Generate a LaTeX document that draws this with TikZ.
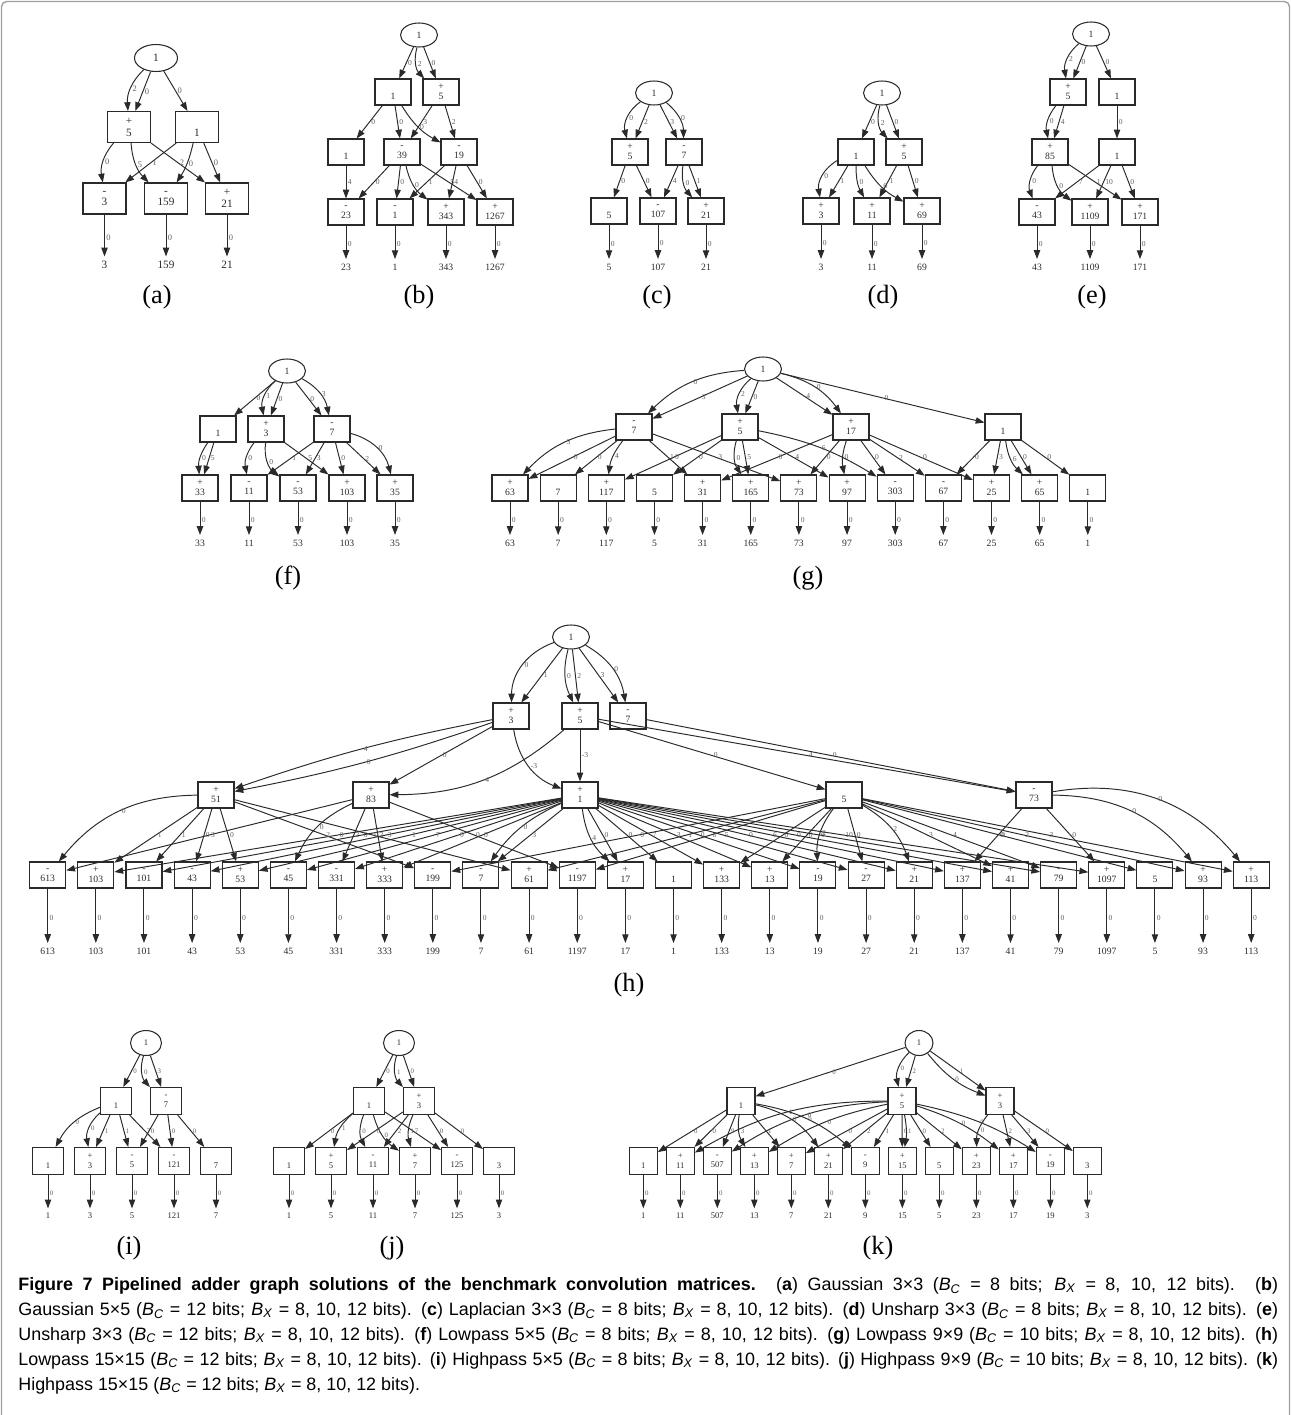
\documentclass[tikz,border=0pt]{standalone}
\usepackage{fontspec}
\setmainfont{Liberation Serif}
\newfontfamily\capfont{Liberation Sans}
\usepackage{tikz}
\usetikzlibrary{arrows.meta,shapes.geometric}
\definecolor{inkgray}{HTML}{2A2A2A}
\definecolor{labelgray}{HTML}{606060}
\definecolor{framegray}{HTML}{A0A0A0}
\newcommand{\Bc}{\textit{B}\textsubscript{\textit{C}}}
\newcommand{\Bx}{\textit{B}\textsubscript{\textit{X}}}
\tikzset{
  opbox/.style={rectangle,draw=inkgray,line width=0.6pt,minimum width=0.72cm,minimum height=0.52cm,inner sep=0pt,align=center,text=inkgray,font=\fontsize{5.5}{5.7}\selectfont},
  srcnode/.style={ellipse,draw=inkgray,line width=0.6pt,minimum width=0.74cm,minimum height=0.48cm,inner sep=0pt,text=inkgray,font=\fontsize{5.5}{6}\selectfont},
  outval/.style={inner sep=0.5pt,text=inkgray,font=\fontsize{5.5}{6}\selectfont},
  wire/.style={-{Triangle[length=5pt,width=3.6pt]},line width=0.55pt,draw=inkgray},
  outwire/.style={wire,shorten >=2pt},
  shiftlbl/.style={anchor=west,inner sep=0.8pt,text=labelgray,font=\fontsize{4.3}{4.5}\selectfont},
  sublbl/.style={inner sep=0pt,font=\fontsize{15}{18}\selectfont},
  captext/.style={anchor=north west,inner sep=0pt,text width=25.2cm,align=justify,font=\capfont\fontsize{10.2}{14.2}\selectfont}
}

\begin{document}
\begin{tikzpicture}[x=0.02cm,y=-0.02cm]
\useasboundingbox (0,0) rectangle (1291,1415);
\draw[framegray,line width=0.8pt,rounded corners=3pt] (1.5,1420) -- (1.5,1.5) -- (1289.5,1.5) -- (1289.5,1420);

% (a)
\begin{scope}[opbox/.append style={minimum width=0.86cm,minimum height=0.62cm,font=\fontsize{6.4}{6.8}\selectfont},
  srcnode/.append style={minimum width=0.86cm,minimum height=0.54cm,font=\fontsize{6.4}{7}\selectfont},
  outval/.append style={font=\fontsize{6.4}{7}\selectfont},
  shiftlbl/.append style={font=\fontsize{4.8}{5}\selectfont}]
\node[srcnode] (ar) at (156,58) {1};
\node[opbox] (au5) at (129,127) {+\\5};
\node[opbox] (au1) at (197,127) {\phantom{+}\\1};
\foreach \s/\v/\x in {-/3/104.5,-/159/166,+/21/227}
  \node[opbox] (ab\v) at (\x,198.5) {\s\\\v};
\draw[wire] (ar) to[bend right=25] node[shiftlbl]{2} (au5);
\draw[wire] (ar) -- node[shiftlbl]{0} (au5);
\draw[wire] (ar) -- node[shiftlbl]{0} (au1);
\draw[wire] (au5) to[bend right=25] node[shiftlbl]{0} (ab3);
\draw[wire] (au5) to[bend right=20] node[shiftlbl]{5} (ab159);
\draw[wire] (au5) -- node[shiftlbl]{2} (ab21);
\draw[wire] (au1) -- node[shiftlbl]{1} (ab3);
\draw[wire] (au1) to[bend left=10] node[shiftlbl]{0} (ab159);
\draw[wire] (au1) -- node[shiftlbl]{0} (ab21);
\foreach \v in {3,159,21}{
  \node[outval] (ao\v) at (ab\v |- 0,265) {\v};
  \draw[outwire] (ab\v) -- node[shiftlbl]{0} (ao\v);
}
\node[sublbl] (alabel) at (157,297) {(a)};
\end{scope}

% (b)
\node[srcnode] (br) at (419,35) {1};
\node[opbox] (bu1) at (393,92) {\phantom{+}\\1};
\node[opbox] (bu5) at (441,92) {+\\5};
\node[opbox] (bm1) at (346,152) {\phantom{+}\\1};
\node[opbox] (bm39) at (402,152) {-\\39};
\node[opbox] (bm19) at (459,152) {-\\19};
\foreach \s/\v/\x in {-/23/346,-/1/395,+/343/446,+/1267/495}
  \node[opbox] (bb\v) at (\x,212) {\s\\\v};
\draw[wire] (br) -- node[shiftlbl]{0} (bu1);
\draw[wire] (br) to[bend right=30] node[shiftlbl]{2} (bu5);
\draw[wire] (br) -- node[shiftlbl]{0} (bu5);
\draw[wire] (bu1) -- node[shiftlbl]{0} (bm1);
\draw[wire] (bu1) -- node[shiftlbl]{0} (bm39);
\draw[wire] (bu1) to[bend right=15] node[shiftlbl]{0} (bm19);
\draw[wire] (bu5) -- node[shiftlbl]{3} (bm39);
\draw[wire] (bu5) -- node[shiftlbl]{2} (bm19);
\draw[wire] (bm1) -- node[shiftlbl]{4} (bb23);
\draw[wire] (bm39) -- node[shiftlbl]{0} (bb23);
\draw[wire] (bm39) -- node[shiftlbl]{0} (bb1);
\draw[wire] (bm39) to[bend right=20] node[shiftlbl]{0} (bb343);
\draw[wire] (bm39) -- node[shiftlbl]{5} (bb1267);
\draw[wire] (bm19) -- node[shiftlbl]{1} (bb1);
\draw[wire] (bm19) -- node[shiftlbl]{4} (bb343);
\draw[wire] (bm19) -- node[shiftlbl]{0} (bb1267);
\foreach \v in {23,1,343,1267}{
  \node[outval] (bo\v) at (bb\v |- 0,267) {\v};
  \draw[outwire] (bb\v) -- node[shiftlbl]{0} (bo\v);
}
\node[sublbl] (blabel) at (419,297) {(b)};

% (c)
\node[srcnode] (cr) at (654,93) {1};
\node[opbox] (cu5) at (630,152) {+\\5};
\node[opbox] (cu7) at (684,152) {-\\7};
\foreach \s/\v/\x in {\phantom{+}/5/609,-/107/658,+/21/706}
  \node[opbox] (cb\v) at (\x,211) {\s\\\v};
\draw[wire] (cr) to[bend right=35] node[shiftlbl]{0} (cu5);
\draw[wire] (cr) -- node[shiftlbl]{2} (cu5);
\draw[wire] (cr) -- node[shiftlbl]{3} (cu7);
\draw[wire] (cr) to[bend left=25] node[shiftlbl]{0} (cu7);
\draw[wire] (cu5) -- node[shiftlbl]{0} (cb5);
\draw[wire] (cu5) -- node[shiftlbl]{0} (cb107);
\draw[wire] (cu7) -- node[shiftlbl]{4} (cb107);
\draw[wire] (cu7) to[bend right=25] node[shiftlbl]{0} (cb21);
\draw[wire] (cu7) -- node[shiftlbl]{1} (cb21);
\foreach \v in {5,107,21}{
  \node[outval] (co\v) at (cb\v |- 0,267) {\v};
  \draw[outwire] (cb\v) -- node[shiftlbl]{0} (co\v);
}
\node[sublbl] (clabel) at (657,297) {(c)};

% (d)
\node[srcnode] (dr) at (882,93) {1};
\node[opbox] (du1) at (856,152) {\phantom{+}\\1};
\node[opbox] (du5) at (904,152) {+\\5};
\foreach \s/\v/\x in {+/3/821,+/11/872,+/69/922}
  \node[opbox] (db\v) at (\x,211) {\s\\\v};
\draw[wire] (dr) -- node[shiftlbl]{0} (du1);
\draw[wire] (dr) to[bend right=30] node[shiftlbl]{2} (du5);
\draw[wire] (dr) -- node[shiftlbl]{0} (du5);
\draw[wire] (du1) to[bend right=35] node[shiftlbl]{0} (db3);
\draw[wire] (du1) -- node[shiftlbl]{1} (db3);
\draw[wire] (du1) to[bend right=15] node[shiftlbl]{0} (db11);
\draw[wire] (du1) to[bend right=15] node[shiftlbl]{6} (db69);
\draw[wire] (du5) -- node[shiftlbl]{1} (db11);
\draw[wire] (du5) -- node[shiftlbl]{0} (db69);
\foreach \v in {3,11,69}{
  \node[outval] (do\v) at (db\v |- 0,267) {\v};
  \draw[outwire] (db\v) -- node[shiftlbl]{0} (do\v);
}
\node[sublbl] (dlabel) at (883,297) {(d)};

% (e)
\node[srcnode] (er) at (1091,34) {1};
\node[opbox] (eu5) at (1068,92) {+\\5};
\node[opbox] (eu1) at (1117,92) {\phantom{+}\\1};
\node[opbox] (em85) at (1050,152) {+\\85};
\node[opbox] (em1) at (1117,152) {\phantom{+}\\1};
\foreach \s/\v/\x in {-/43/1037,+/1109/1090,+/171/1140}
  \node[opbox] (eb\v) at (\x,212) {\s\\\v};
\draw[wire] (er) to[bend right=30] node[shiftlbl]{2} (eu5);
\draw[wire] (er) -- node[shiftlbl]{0} (eu5);
\draw[wire] (er) -- node[shiftlbl]{0} (eu1);
\draw[wire] (eu5) to[bend right=25] node[shiftlbl]{0} (em85);
\draw[wire] (eu5) -- node[shiftlbl]{4} (em85);
\draw[wire] (eu1) -- node[shiftlbl]{0} (em1);
\draw[wire] (em85) to[bend right=30] node[shiftlbl]{0} (eb43);
\draw[wire] (em85) to[bend right=25] node[shiftlbl]{0} (eb1109);
\draw[wire] (em85) -- node[shiftlbl]{1} (eb171);
\draw[wire] (em1) -- node[shiftlbl]{7} (eb43);
\draw[wire] (em1) -- node[shiftlbl]{10} (eb1109);
\draw[wire] (em1) -- node[shiftlbl]{0} (eb171);
\foreach \v in {43,1109,171}{
  \node[outval] (eo\v) at (eb\v |- 0,267) {\v};
  \draw[outwire] (eb\v) -- node[shiftlbl]{0} (eo\v);
}
\node[sublbl] (elabel) at (1092,297) {(e)};

% (f)
\node[srcnode] (fr) at (287,371) {1};
\node[opbox] (fu1) at (218,429) {\phantom{+}\\1};
\node[opbox] (fu3) at (266,429) {+\\3};
\node[opbox] (fu7) at (332,429) {-\\7};
\foreach \s/\v/\x in {+/33/200,-/11/249,-/53/298,+/103/347,+/35/395}
  \node[opbox] (fb\v) at (\x,488) {\s\\\v};
\draw[wire] (fr) -- node[shiftlbl]{0} (fu1);
\draw[wire] (fr) to[bend right=30] node[shiftlbl]{1} (fu3);
\draw[wire] (fr) -- node[shiftlbl]{0} (fu3);
\draw[wire] (fr) -- node[shiftlbl]{0} (fu7);
\draw[wire] (fr) to[bend left=25] node[shiftlbl]{3} (fu7);
\draw[wire] (fu1) to[bend right=20] node[shiftlbl]{0} (fb33);
\draw[wire] (fu1) -- node[shiftlbl]{5} (fb33);
\draw[wire] (fu3) to[bend right=25] node[shiftlbl]{0} (fb11);
\draw[wire] (fu3) to[bend right=30] node[shiftlbl]{0} (fb53);
\draw[wire] (fu3) -- node[shiftlbl]{5} (fb103);
\draw[wire] (fu7) -- node[shiftlbl]{1} (fb11);
\draw[wire] (fu7) -- node[shiftlbl]{3} (fb53);
\draw[wire] (fu7) -- node[shiftlbl]{0} (fb103);
\draw[wire] (fu7) -- node[shiftlbl]{2} (fb35);
\draw[wire] (fu7) to[bend left=30] node[shiftlbl]{0} (fb35);
\foreach \v in {33,11,53,103,35}{
  \node[outval] (fo\v) at (fb\v |- 0,543) {\v};
  \draw[outwire] (fb\v) -- node[shiftlbl]{0} (fo\v);
}
\node[sublbl] (flabel) at (288,578) {(f)};

% (g)
\node[srcnode] (gr) at (763,369) {1};
\node[opbox] (gu7) at (634,427) {-\\7};
\node[opbox] (gu5) at (740,427) {+\\5};
\node[opbox] (gu17) at (851,427) {+\\17};
\node[opbox] (gu1) at (1003,427) {\phantom{+}\\1};
\foreach \s/\v [count=\i from 0] in {+/63,\phantom{+}/7,+/117,\phantom{+}/5,+/31,+/165,+/73,+/97,-/303,-/67,+/25,+/65,\phantom{+}/1}
  \node[opbox] (gb\v) at ({510+48.15*\i},488) {\s\\\v};
\draw[wire] (gr) to[bend right=20] node[shiftlbl]{0} (gu7);
\draw[wire] (gr) -- node[shiftlbl]{3} (gu7);
\draw[wire] (gr) to[bend right=30] node[shiftlbl]{2} (gu5);
\draw[wire] (gr) -- node[shiftlbl]{0} (gu5);
\draw[wire] (gr) -- node[shiftlbl]{4} (gu17);
\draw[wire] (gr) to[bend left=20] node[shiftlbl]{0} (gu17);
\draw[wire] (gr) -- node[shiftlbl]{0} (gu1);
\draw[wire] (gu7) to[bend right=20] node[shiftlbl]{3} (gb63);
\draw[wire] (gu7) -- node[shiftlbl]{0} (gb63);
\draw[wire] (gu7) -- node[shiftlbl]{0} (gb7);
\draw[wire] (gu7) to[bend right=15] node[shiftlbl]{4} (gb117);
\draw[wire] (gu5) -- node[shiftlbl]{0} (gb117);
\draw[wire] (gu7) -- node[shiftlbl]{1} (gb31);
\draw[wire] (gu17) -- node[shiftlbl]{0} (gb31);
\draw[wire] (gu5) -- node[shiftlbl]{0} (gb5);
\draw[wire] (gu5) to[bend right=25] node[shiftlbl]{0} (gb165);
\draw[wire] (gu5) -- node[shiftlbl]{5} (gb165);
\draw[wire] (gu7) -- node[shiftlbl]{3} (gb73);
\draw[wire] (gu17) -- node[shiftlbl]{0} (gb73);
\draw[wire] (gu5) -- node[shiftlbl]{4} (gb97);
\draw[wire] (gu17) to[bend right=15] node[shiftlbl]{0} (gb97);
\draw[wire] (gu5) to[bend left=10] node[shiftlbl]{6} (gb303);
\draw[wire] (gu17) -- node[shiftlbl]{0} (gb303);
\draw[wire] (gu17) -- node[shiftlbl]{2} (gb67);
\draw[wire] (gu1) -- node[shiftlbl]{0} (gb67);
\draw[wire] (gu17) -- node[shiftlbl]{0} (gb25);
\draw[wire] (gu1) -- node[shiftlbl]{3} (gb25);
\draw[wire] (gu1) to[bend right=20] node[shiftlbl]{6} (gb65);
\draw[wire] (gu1) -- node[shiftlbl]{0} (gb65);
\draw[wire] (gu1) -- node[shiftlbl]{0} (gb1);
\foreach \v in {63,7,117,5,31,165,73,97,303,67,25,65,1}{
  \node[outval] (go\v) at (gb\v |- 0,543) {\v};
  \draw[outwire] (gb\v) -- node[shiftlbl]{0} (go\v);
}
\node[sublbl] (glabel) at (808,578) {(g)};

% (h)
\node[srcnode] (hr) at (571,637) {1};
\node[opbox] (hu3) at (511,716) {+\\3};
\node[opbox] (hu5) at (580,716) {+\\5};
\node[opbox] (hu7) at (628,716) {-\\7};
\node[opbox] (hm51) at (216,795) {+\\51};
\node[opbox] (hm83) at (371,795) {+\\83};
\node[opbox] (hm1) at (580,795) {+\\1};
\node[opbox] (hm5) at (844,795) {\phantom{+}\\5};
\node[opbox] (hm73) at (1034,795) {-\\73};
\foreach \s/\v [count=\i from 0] in {-/613,+/103,-/101,-/43,+/53,-/45,-/331,+/333,-/199,-/7,+/61,-/1197,+/17,\phantom{+}/1,+/133,+/13,-/19,-/27,+/21,+/137,+/41,-/79,+/1097,\phantom{+}/5,+/93,+/113}
  \node[opbox] (hb\v) at ({47.7+48.14*\i},875) {\s\\\v};
\draw[wire] (hr) to[bend right=35] node[shiftlbl]{0} (hu3);
\draw[wire] (hr) -- node[shiftlbl]{1} (hu3);
\draw[wire] (hr) to[bend right=20] node[shiftlbl]{0} (hu5);
\draw[wire] (hr) -- node[shiftlbl]{2} (hu5);
\draw[wire] (hr) -- node[shiftlbl]{3} (hu7);
\draw[wire] (hr) to[bend left=25] node[shiftlbl]{0} (hu7);
\draw[wire] (hu3) to[bend left=4] node[shiftlbl]{0} (hm51);
\draw[wire] (hu3) to[bend right=4] node[shiftlbl]{4} (hm51);
\draw[wire] (hu3) -- node[shiftlbl]{0} (hm83);
\draw[wire] (hu5) to[bend left=20] node[shiftlbl]{4} (hm83);
\draw[wire] (hu3) to[bend right=30] node[shiftlbl]{-3} (hm1);
\draw[wire] (hu5) -- node[shiftlbl]{-3} (hm1);
\draw[wire] (hu5) -- node[shiftlbl]{0} (hm5);
\draw[wire] (hu5) -- node[shiftlbl]{4} (hm73);
\draw[wire] (hu7) -- node[shiftlbl]{0} (hm73);
\draw[wire] (hm51) to[bend right=25] node[shiftlbl]{0} (hb613);
\draw[wire] (hm83) -- node[shiftlbl]{3} (hb613);
\draw[wire] (hm51) -- node[shiftlbl]{1} (hb103);
\draw[wire] (hm1) -- node[shiftlbl]{0} (hb103);
\draw[wire] (hm51) -- node[shiftlbl]{1} (hb101);
\draw[wire] (hm1) -- node[shiftlbl]{0} (hb101);
\draw[wire] (hm51) -- node[shiftlbl]{0} (hb43);
\draw[wire] (hm1) -- node[shiftlbl]{3} (hb43);
\draw[wire] (hm51) -- node[shiftlbl]{0} (hb53);
\draw[wire] (hm1) -- node[shiftlbl]{1} (hb53);
\draw[wire] (hm83) to[bend right=20] node[shiftlbl]{0} (hb45);
\draw[wire] (hm1) -- node[shiftlbl]{7} (hb45);
\draw[wire] (hm83) -- node[shiftlbl]{2} (hb331);
\draw[wire] (hm1) -- node[shiftlbl]{0} (hb331);
\draw[wire] (hm83) -- node[shiftlbl]{2} (hb333);
\draw[wire] (hm1) -- node[shiftlbl]{0} (hb333);
\draw[wire] (hm51) -- node[shiftlbl]{2} (hb199);
\draw[wire] (hm5) -- node[shiftlbl]{0} (hb199);
\draw[wire] (hm1) -- node[shiftlbl]{3} (hb7);
\draw[wire] (hm1) to[bend right=15] node[shiftlbl]{0} (hb7);
\draw[wire] (hm51) -- node[shiftlbl]{0} (hb61);
\draw[wire] (hm5) -- node[shiftlbl]{1} (hb61);
\draw[wire] (hm83) -- node[shiftlbl]{0} (hb1197);
\draw[wire] (hm5) -- node[shiftlbl]{8} (hb1197);
\draw[wire] (hm1) to[bend right=20] node[shiftlbl]{4} (hb17);
\draw[wire] (hm1) -- node[shiftlbl]{0} (hb17);
\draw[wire] (hm1) -- node[shiftlbl]{0} (hb1);
\draw[wire] (hm1) -- node[shiftlbl]{7} (hb133);
\draw[wire] (hm5) -- node[shiftlbl]{0} (hb133);
\draw[wire] (hm1) -- node[shiftlbl]{3} (hb13);
\draw[wire] (hm5) -- node[shiftlbl]{0} (hb13);
\draw[wire] (hm1) -- node[shiftlbl]{0} (hb19);
\draw[wire] (hm5) to[bend right=20] node[shiftlbl]{2} (hb19);
\draw[wire] (hm1) -- node[shiftlbl]{5} (hb27);
\draw[wire] (hm5) -- node[shiftlbl]{0} (hb27);
\draw[wire] (hm1) -- node[shiftlbl]{0} (hb21);
\draw[wire] (hm5) to[bend left=20] node[shiftlbl]{2} (hb21);
\draw[wire] (hm1) -- node[shiftlbl]{6} (hb137);
\draw[wire] (hm73) -- node[shiftlbl]{0} (hb137);
\draw[wire] (hm1) -- node[shiftlbl]{0} (hb41);
\draw[wire] (hm5) -- node[shiftlbl]{3} (hb41);
\draw[wire] (hm1) -- node[shiftlbl]{0} (hb79);
\draw[wire] (hm5) -- node[shiftlbl]{4} (hb79);
\draw[wire] (hm1) -- node[shiftlbl]{10} (hb1097);
\draw[wire] (hm73) -- node[shiftlbl]{0} (hb1097);
\draw[wire] (hm5) -- node[shiftlbl]{0} (hb5);
\draw[wire] (hm5) -- node[shiftlbl]{2} (hb93);
\draw[wire] (hm73) to[bend left=25] node[shiftlbl]{0} (hb93);
\draw[wire] (hm5) -- node[shiftlbl]{3} (hb113);
\draw[wire] (hm73) to[bend left=30] node[shiftlbl]{0} (hb113);
\foreach \v in {613,103,101,43,53,45,331,333,199,7,61,1197,17,1,133,13,19,27,21,137,41,79,1097,5,93,113}{
  \node[outval] (ho\v) at (hb\v |- 0,951) {\v};
  \draw[outwire] (hb\v) -- node[shiftlbl]{0} (ho\v);
}
\node[sublbl] (hlabel) at (629,985) {(h)};

% (i), (j), (k)
\begin{scope}[opbox/.append style={minimum width=0.62cm,minimum height=0.54cm,font=\fontsize{4.9}{5.6}\selectfont},
  srcnode/.append style={minimum width=0.62cm,minimum height=0.5cm,font=\fontsize{4.9}{5}\selectfont},
  outval/.append style={font=\fontsize{4.9}{5}\selectfont},
  shiftlbl/.append style={font=\fontsize{3.9}{4}\selectfont}]
\node[srcnode] (ir) at (146,1043) {1};
\node[opbox] (iu1) at (116,1101) {\phantom{+}\\1};
\node[opbox] (iu7) at (166,1101) {-\\7};
\foreach \s/\v/\x in {\phantom{+}/1/48,+/3/90,-/5/132,-/121/174,\phantom{+}/7/216}
  \node[opbox] (ib\v) at (\x,1161) {\s\\\v};
\draw[wire] (ir) -- node[shiftlbl]{0} (iu1);
\draw[wire] (ir) to[bend right=30] node[shiftlbl]{0} (iu7);
\draw[wire] (ir) -- node[shiftlbl]{3} (iu7);
\draw[wire] (iu1) to[bend right=20] node[shiftlbl]{0} (ib1);
\draw[wire] (iu1) to[bend right=30] node[shiftlbl]{0} (ib3);
\draw[wire] (iu1) -- node[shiftlbl]{1} (ib3);
\draw[wire] (iu1) -- node[shiftlbl]{1} (ib5);
\draw[wire] (iu1) -- node[shiftlbl]{7} (ib121);
\draw[wire] (iu7) -- node[shiftlbl]{0} (ib5);
\draw[wire] (iu7) -- node[shiftlbl]{0} (ib121);
\draw[wire] (iu7) -- node[shiftlbl]{0} (ib7);
\foreach \v in {1,3,5,121,7}{
  \node[outval] (io\v) at (ib\v |- 0,1216) {\v};
  \draw[outwire] (ib\v) -- node[shiftlbl]{0} (io\v);
}
\node[sublbl] (ilabel) at (129,1248) {(i)};

\node[srcnode] (jr) at (399,1043) {1};
\node[opbox] (ju1) at (369,1101) {\phantom{+}\\1};
\node[opbox] (ju3) at (419,1101) {+\\3};
\foreach \s/\v/\x in {\phantom{+}/1/289,+/5/331,-/11/373,+/7/415,-/125/457,\phantom{+}/3/499}
  \node[opbox] (jb\v) at (\x,1161) {\s\\\v};
\draw[wire] (jr) -- node[shiftlbl]{0} (ju1);
\draw[wire] (jr) to[bend right=30] node[shiftlbl]{1} (ju3);
\draw[wire] (jr) -- node[shiftlbl]{0} (ju3);
\draw[wire] (ju1) -- node[shiftlbl]{0} (jb1);
\draw[wire] (ju1) to[bend right=20] node[shiftlbl]{1} (jb5);
\draw[wire] (ju1) to[bend right=25] node[shiftlbl]{0} (jb11);
\draw[wire] (ju1) to[bend right=20] node[shiftlbl]{0} (jb7);
\draw[wire] (ju1) -- node[shiftlbl]{7} (jb125);
\draw[wire] (ju3) -- node[shiftlbl]{0} (jb5);
\draw[wire] (ju3) -- node[shiftlbl]{2} (jb11);
\draw[wire] (ju3) to[bend right=20] node[shiftlbl]{1} (jb7);
\draw[wire] (ju3) -- node[shiftlbl]{0} (jb125);
\draw[wire] (ju3) -- node[shiftlbl]{0} (jb3);
\foreach \v in {1,5,11,7,125,3}{
  \node[outval] (jo\v) at (jb\v |- 0,1216) {\v};
  \draw[outwire] (jb\v) -- node[shiftlbl]{0} (jo\v);
}
\node[sublbl] (jlabel) at (392,1248) {(j)};

\begin{scope}[opbox/.append style={minimum width=0.56cm},srcnode/.append style={minimum width=0.56cm}]
\node[srcnode] (kr) at (919,1043) {1};
\node[opbox] (ku1) at (741,1101) {\phantom{+}\\1};
\node[opbox] (ku5) at (902,1101) {+\\5};
\node[opbox] (ku3) at (1000,1101) {+\\3};
\foreach \s/\v [count=\i from 0] in {\phantom{+}/1,+/11,-/507,+/13,+/7,+/21,-/9,+/15,\phantom{+}/5,+/23,+/17,-/19,\phantom{+}/3}
  \node[opbox] (kb\v) at ({643.3+37*\i},1161) {\s\\\v};
\draw[wire] (kr) -- node[shiftlbl]{0} (ku1);
\draw[wire] (kr) to[bend right=30] node[shiftlbl]{0} (ku5);
\draw[wire] (kr) -- node[shiftlbl]{2} (ku5);
\draw[wire] (kr) to[bend right=15] node[shiftlbl]{0} (ku3);
\draw[wire] (kr) -- node[shiftlbl]{1} (ku3);
\draw[wire] (ku1) -- node[shiftlbl]{0} (kb1);
\draw[wire] (ku1) -- node[shiftlbl]{0} (kb11);
\draw[wire] (ku5) to[bend right=15] node[shiftlbl]{1} (kb11);
\draw[wire] (ku1) -- node[shiftlbl]{9} (kb507);
\draw[wire] (ku5) to[bend right=15] node[shiftlbl]{0} (kb507);
\draw[wire] (ku1) to[bend right=20] node[shiftlbl]{3} (kb13);
\draw[wire] (ku5) to[bend right=10] node[shiftlbl]{0} (kb13);
\draw[wire] (ku1) -- node[shiftlbl]{1} (kb7);
\draw[wire] (ku5) -- node[shiftlbl]{0} (kb7);
\draw[wire] (ku1) to[bend left=20] node[shiftlbl]{0} (kb21);
\draw[wire] (ku5) -- node[shiftlbl]{2} (kb21);
\draw[wire] (ku1) to[bend left=15] node[shiftlbl]{0} (kb9);
\draw[wire] (ku5) -- node[shiftlbl]{1} (kb9);
\draw[wire] (ku5) -- node[shiftlbl]{0} (kb15);
\draw[wire] (ku5) to[bend left=10] node[shiftlbl]{1} (kb15);
\draw[wire] (ku5) -- node[shiftlbl]{0} (kb5);
\draw[wire] (ku5) -- node[shiftlbl]{2} (kb23);
\draw[wire] (ku3) to[bend right=20] node[shiftlbl]{0} (kb23);
\draw[wire] (ku5) to[bend left=10] node[shiftlbl]{0} (kb17);
\draw[wire] (ku3) -- node[shiftlbl]{2} (kb17);
\draw[wire] (ku5) to[bend left=10] node[shiftlbl]{0} (kb19);
\draw[wire] (ku3) -- node[shiftlbl]{3} (kb19);
\draw[wire] (ku3) -- node[shiftlbl]{0} (kb3);
\foreach \v in {1,11,507,13,7,21,9,15,5,23,17,19,3}{
  \node[outval] (ko\v) at (kb\v |- 0,1216) {\v};
  \draw[outwire] (kb\v) -- node[shiftlbl]{0} (ko\v);
}
\node[sublbl] (klabel) at (878,1248) {(k)};
\end{scope}
\end{scope}

\node[captext] (cap) at (18,1277) {\textbf{Figure 7 Pipelined adder graph solutions of the benchmark convolution matrices.} (\textbf{a}) Gaussian 3×3 (\Bc{} = 8 bits; \Bx{} = 8, 10, 12 bits). (\textbf{b})\linebreak
Gaussian 5×5 (\Bc{} = 12 bits; \Bx{} = 8, 10, 12 bits). (\textbf{c}) Laplacian 3×3 (\Bc{} = 8 bits; \Bx{} = 8, 10, 12 bits). (\textbf{d}) Unsharp 3×3 (\Bc{} = 8 bits; \Bx{} = 8, 10, 12 bits). (\textbf{e})\linebreak
Unsharp 3×3 (\Bc{} = 12 bits; \Bx{} = 8, 10, 12 bits). (\textbf{f}) Lowpass 5×5 (\Bc{} = 8 bits; \Bx{} = 8, 10, 12 bits). (\textbf{g}) Lowpass 9×9 (\Bc{} = 10 bits; \Bx{} = 8, 10, 12 bits). (\textbf{h})\linebreak
Lowpass 15×15 (\Bc{} = 12 bits; \Bx{} = 8, 10, 12 bits). (\textbf{i}) Highpass 5×5 (\Bc{} = 8 bits; \Bx{} = 8, 10, 12 bits). (\textbf{j}) Highpass 9×9 (\Bc{} = 10 bits; \Bx{} = 8, 10, 12 bits). (\textbf{k})\linebreak
Highpass 15×15 (\Bc{} = 12 bits; \Bx{} = 8, 10, 12 bits).};
\end{tikzpicture}
\end{document}
